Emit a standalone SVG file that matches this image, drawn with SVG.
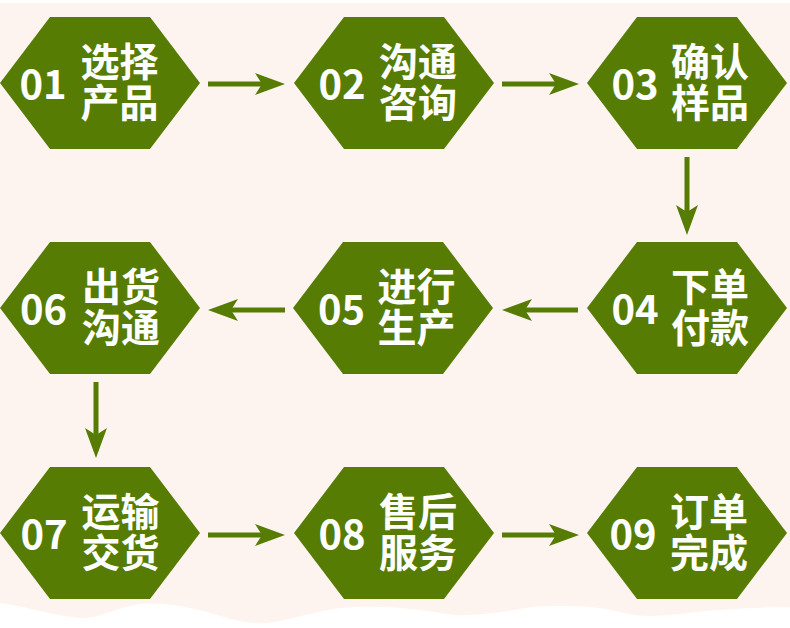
<svg xmlns="http://www.w3.org/2000/svg" width="790" height="628" viewBox="0 0 790 628">
<style>
.hex{fill:#567c03}
.num{font-family:"Noto Sans CJK SC","Noto Sans",sans-serif;font-weight:700;font-size:40px;fill:#ffffff;text-anchor:middle}
.lbl{font-family:"Noto Sans CJK SC",sans-serif;font-weight:700;font-size:39px;fill:#ffffff;text-anchor:middle}
.arr{stroke:#567c03;stroke-width:5;fill:none;marker-end:url(#ah)}
</style>
<defs>
<polygon id="hx" points="-100,0 -50,-66 50,-66 100,0 50,66 -50,66"/>
<marker id="ah" markerUnits="userSpaceOnUse" viewBox="0 0 30 24" markerWidth="30" markerHeight="24" refX="10" refY="12" orient="auto">
<path d="M30,12 L0,1 L7,12 L0,23 Z" fill="#567c03"/>
</marker>
</defs>
<rect width="790" height="628" fill="#ffffff"/>
<rect y="3" width="790" height="625" fill="#fdf4ef"/>
<path d="M0,603 C20,605 50,615 80,618 C100,619 120,606 140,604 C160,602 190,606 220,616 C240,622 255,624 265,623 C285,622 310,612 340,608 C360,606 390,606 420,610 C440,613 450,615 465,615 C490,614 510,611 525,608 C545,605 570,605 600,608 C620,611 630,616 650,616 C670,616 700,611 720,610 C745,608 770,607 790,607 L790,628 L0,628 Z" fill="#ffffff"/>
<g id="connectors">
<line class="arr" x1="208" y1="84" x2="265" y2="84"/>
<line class="arr" x1="502" y1="84" x2="559" y2="84"/>
<line class="arr" x1="687" y1="157" x2="687" y2="215"/>
<line class="arr" x1="578" y1="310" x2="522" y2="310"/>
<line class="arr" x1="285" y1="310" x2="228" y2="310"/>
<line class="arr" x1="96" y1="382" x2="96" y2="438"/>
<line class="arr" x1="208" y1="535" x2="265" y2="535"/>
<line class="arr" x1="502" y1="535" x2="559" y2="535"/>
</g>
<g id="n01"><use href="#hx" class="hex" x="100" y="83"/><text class="num" x="43" y="99">01</text><text class="lbl"><tspan x="119.5" y="76">选择</tspan><tspan x="119.5" y="117">产品</tspan></text></g>
<g id="n02"><use href="#hx" class="hex" x="394" y="83"/><text class="num" x="342" y="99">02</text><text class="lbl"><tspan x="418" y="76">沟通</tspan><tspan x="418" y="117">咨询</tspan></text></g>
<g id="n03"><use href="#hx" class="hex" x="687" y="83"/><text class="num" x="635" y="99">03</text><text class="lbl"><tspan x="710" y="76">确认</tspan><tspan x="710" y="117">样品</tspan></text></g>
<g id="n04"><use href="#hx" class="hex" x="687" y="308"/><text class="num" x="635" y="324">04</text><text class="lbl"><tspan x="710" y="301">下单</tspan><tspan x="710" y="342">付款</tspan></text></g>
<g id="n05"><use href="#hx" class="hex" x="393" y="308"/><text class="num" x="341.5" y="324">05</text><text class="lbl"><tspan x="416.5" y="301">进行</tspan><tspan x="416.5" y="342">生产</tspan></text></g>
<g id="n06"><use href="#hx" class="hex" x="100" y="308"/><text class="num" x="43.5" y="324">06</text><text class="lbl"><tspan x="121" y="301">出货</tspan><tspan x="121" y="342">沟通</tspan></text></g>
<g id="n07"><use href="#hx" class="hex" x="100" y="533"/><text class="num" x="44" y="549">07</text><text class="lbl"><tspan x="120.5" y="526">运输</tspan><tspan x="120.5" y="567">交货</tspan></text></g>
<g id="n08"><use href="#hx" class="hex" x="394" y="533"/><text class="num" x="342" y="549">08</text><text class="lbl"><tspan x="418" y="526">售后</tspan><tspan x="418" y="567">服务</tspan></text></g>
<g id="n09"><use href="#hx" class="hex" x="687" y="533"/><text class="num" x="633" y="549">09</text><text class="lbl"><tspan x="709" y="526">订单</tspan><tspan x="709" y="567">完成</tspan></text></g>
</svg>
